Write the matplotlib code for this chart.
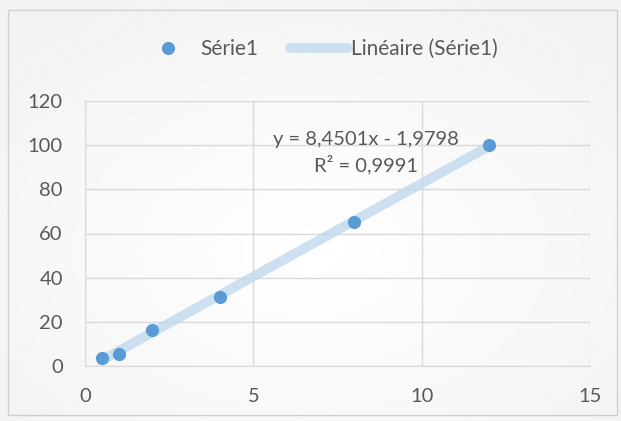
import numpy as np
import matplotlib
matplotlib.use('Agg')
import matplotlib.pyplot as plt

x_vals = [0.5, 1, 2, 4, 8, 12]
y_vals = [3.8, 5.3, 16.3, 31.2, 65.4, 100]
series_name = 'Série1'
trend_name = 'Linéaire (Série1)'
eq_text = 'y = 8,4501x - 1,9798'
r2_text = 'R² = 0,9991'

plt.rcParams['font.family'] = ['Lato', 'DejaVu Sans']
txt = '#595959'

fig = plt.figure(figsize=(6.21, 4.21), dpi=100)

# subtle gradient background + frame
bg = fig.add_axes([0, 0, 1, 1], zorder=-10)
yy, xx = np.mgrid[0:1:200j, 0:1:300j]
r = np.sqrt((xx - 0.5) ** 2 + (yy - 0.6) ** 2)
bg.imshow(1 - 0.05 * np.clip(r / 0.7, 0, 1), cmap='gray', vmin=0, vmax=1,
          extent=[0, 1, 0, 1], aspect='auto')
bg.add_patch(plt.Rectangle((8 / 621, 6 / 421), 609 / 621, 405 / 421,
                           fill=False, ec='#d0d0d0', lw=1))
bg.set_xlim(0, 1)
bg.set_ylim(0, 1)
bg.axis('off')

ax = fig.add_axes([85 / 621, 1 - 366 / 421, 505 / 621, 265 / 421])
ax.set_facecolor('none')

coef = np.polyfit(x_vals, y_vals, 1)
xt = np.array([min(x_vals), max(x_vals)])
ax.plot(xt, np.polyval(coef, xt), color='#bdd7ee', lw=7, alpha=0.75,
        solid_capstyle='round', label=trend_name, zorder=2)
ax.plot(x_vals, y_vals, 'o', color='#5b9bd5', ms=8.5, label=series_name,
        zorder=3)

ax.text(8.35, 102.5, eq_text, ha='center', va='center', fontsize=14.5, color=txt)
ax.text(8.35, 91, r2_text, ha='center', va='center', fontsize=14.5, color=txt)

ax.set_xlim(0, 15)
ax.set_ylim(0, 120)
ax.set_xticks([0, 5, 10, 15])
ax.set_yticks(range(0, 121, 20))
ax.grid(True, color='#d9d9d9', lw=1)
ax.set_axisbelow(True)
for s in ['top', 'right']:
    ax.spines[s].set_visible(False)
for s in ['left', 'bottom']:
    ax.spines[s].set_color('#d9d9d9')
ax.tick_params(length=0, labelsize=14.5, colors=txt)
ax.tick_params(axis='y', pad=16)
ax.tick_params(axis='x', pad=16)

h, l = ax.get_legend_handles_labels()
fig.legend(h[::-1], l[::-1], loc='center left',
           bbox_to_anchor=(139 / 621, 1 - 49 / 421),
           ncol=2, frameon=False, fontsize=15, labelcolor=txt,
           handlelength=2.8, columnspacing=1.5, handletextpad=0.15,
           borderpad=0, borderaxespad=0)

fig.savefig('out.png', dpi=100)
